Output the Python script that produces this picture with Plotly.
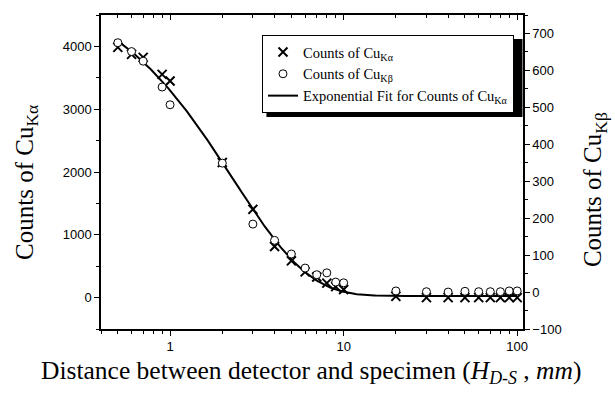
import numpy as np
import plotly.graph_objects as go

# ---- data ----
distance = [0.5, 0.6, 0.7, 0.9, 1, 2, 3, 4, 5, 6, 7, 8, 9, 10,
            20, 30, 40, 50, 60, 70, 80, 90, 100]
counts_ka = [3985, 3873, 3825, 3555, 3450, 2150, 1405, 814, 585, 410, 327, 230, 175, 130,
             20, 0, 0, 0, 0, 0, 0, 0, 0]
counts_kb = [675, 651, 625, 555, 507, 349, 184, 140, 103, 65, 47, 52, 27, 25,
             3, 1, 0, 2, 1, 1, 1, 3, 3]
# exponential-decay fit parameters (y = y0 + A*exp(-x/t))
fit_y0 = 25
fit_A = 5040
fit_t = 2.32
fit_xmin, fit_xmax = 0.5, 100

x_major = [1, 10, 100]
x_minor = [k * 10.0 ** e for e in (-1, 0, 1) for k in range(2, 10)
           if 0.4 <= k * 10.0 ** e <= 108]
x_minor = [v for v in x_minor if v not in (1, 10, 100)]

fit_x = np.logspace(np.log10(fit_xmin), np.log10(fit_xmax), 300)
fit_y = fit_y0 + fit_A * np.exp(-fit_x / fit_t)

serif = "Liberation Serif"
sans = "Liberation Sans"

fig = go.Figure()
fig.add_trace(go.Scatter(
    x=distance, y=counts_ka, mode="markers", name="Counts of Cu<sub>Kα</sub>",
    marker=dict(symbol="x-thin", size=9, line=dict(width=2, color="black"), color="black"),
    xaxis="x", yaxis="y"))
fig.add_trace(go.Scatter(
    x=distance, y=counts_kb, mode="markers", name="Counts of Cu<sub>Kβ</sub>",
    marker=dict(symbol="circle", size=8, color="white", line=dict(width=1, color="black")),
    xaxis="x2", yaxis="y2"))
fig.add_trace(go.Scatter(
    x=fit_x, y=fit_y, mode="lines", name="Exponential Fit for Counts of Cu<sub>Kα</sub>",
    line=dict(color="black", width=2), xaxis="x", yaxis="y"))

xr = [np.log10(0.4), np.log10(108)]
common_x = dict(type="log", range=xr, tickmode="array", tickvals=x_major,
                showline=True, linecolor="black", linewidth=1.5, showgrid=False,
                zeroline=False, tickcolor="black", tickwidth=1, ticklen=5)

fig.update_layout(
    width=615, height=394,
    margin=dict(l=101, r=92, t=15, b=65),
    paper_bgcolor="white", plot_bgcolor="white",
    showlegend=True,
    xaxis=dict(**common_x, ticks="outside", anchor="y",
               tickfont=dict(family=sans, size=13, color="black"),
               minor=dict(tickmode="array", tickvals=x_minor, ticks="outside",
                          ticklen=3, tickcolor="black", tickwidth=1)),
    xaxis2=dict(**common_x, ticks="inside", overlaying="x", side="top", anchor="y",
                showticklabels=False,
                minor=dict(tickmode="array", tickvals=x_minor, ticks="inside",
                           ticklen=3, tickcolor="black", tickwidth=1)),
    yaxis=dict(range=[-500, 4500], tickmode="array", tickvals=[0, 1000, 2000, 3000, 4000],
               ticks="outside", ticklen=5, tickwidth=1, tickcolor="black",
               showline=True, linecolor="black", linewidth=1.5, showgrid=False, zeroline=False,
               tickfont=dict(family=sans, size=13, color="black"),
               minor=dict(dtick=500, tick0=0, ticks="outside", ticklen=3, tickcolor="black")),
    yaxis2=dict(range=[-100, 750], overlaying="y", side="right", anchor="x2",
                tick0=-100, dtick=100, ticks="outside", ticklen=5, tickwidth=1, tickcolor="black",
                showline=True, linecolor="black", linewidth=1.5, showgrid=False, zeroline=False,
                tickfont=dict(family=sans, size=13, color="black"),
                minor=dict(dtick=50, tick0=-100, ticks="outside", ticklen=3, tickcolor="black")),
    legend=dict(x=0.3815, y=0.9363, xanchor="left", yanchor="top",
                bgcolor="white", bordercolor="black", borderwidth=1,
                font=dict(family=serif, size=14.5, color="black"),
                itemwidth=30, tracegroupgap=0),
    shapes=[dict(type="rect", xref="paper", yref="paper",
                 x0=0.392, x1=0.9988, y0=0.675, y1=0.9236,
                 fillcolor="black", line=dict(width=0), layer="above")],
    annotations=[
        dict(text="Counts of Cu<sub>Kα</sub>", xref="paper", yref="paper",
             x=-0.178, y=0.468, textangle=-90, showarrow=False,
             xanchor="center", yanchor="middle",
             font=dict(family=serif, size=25, color="black")),
        dict(text="Counts of Cu<sub>Kβ</sub>", xref="paper", yref="paper",
             x=1.171, y=0.443, textangle=-90, showarrow=False,
             xanchor="center", yanchor="middle",
             font=dict(family=serif, size=25, color="black")),
        dict(text="Distance between detector and specimen (<i>H</i><sub><i>D-S</i></sub> , <i>mm</i>)",
             xref="paper", yref="paper", x=0.497, y=-0.137, showarrow=False,
             xanchor="center", yanchor="middle",
             font=dict(family=serif, size=25.5, color="black")),
    ],
)

fig.write_html("out.html", config={"displayModeBar": False},
               post_script="document.body.style.margin='0';")
